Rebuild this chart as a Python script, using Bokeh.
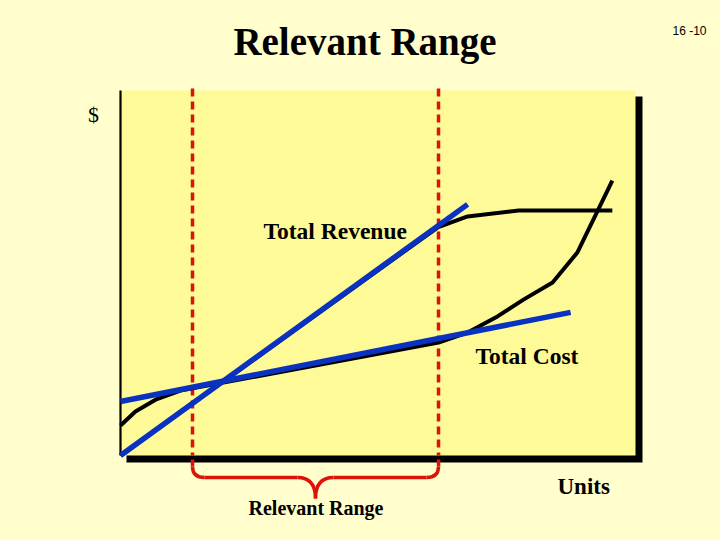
from bokeh.plotting import figure
from bokeh.models import Range1d
from bokeh.core.properties import value
from bokeh.embed import file_html
from bokeh.resources import INLINE

# ---------------- data (Units on x, $ on y, plot area spans 0..100 on both) ----------------
units_revenue_line = [0.0, 67.4]
dollars_revenue_line = [0.0, 68.8]

units_revenue_curve = [0.0, 61.7, 67.4, 77.3, 95.5]
dollars_revenue_curve = [0.0, 62.6, 65.5, 67.1, 67.1]

units_cost_line = [0.0, 87.4]
dollars_cost_line = [14.8, 39.2]

units_cost_curve = [0.0, 2.9, 6.8, 11.65, 61.75, 67.4, 73.2, 78.25, 83.9, 88.7, 95.5]
dollars_cost_curve = [8.2, 12.05, 15.3, 17.8, 30.96, 33.7, 38.1, 42.7, 47.4, 55.6, 75.3]

relevant_range = [13.98, 61.75]
axis_extent = [100.0, 100.0]

title_text = "Relevant Range"
y_label = "$"
x_label = "Units"
revenue_label = "Total Revenue"
cost_label = "Total Cost"
range_label = "Relevant Range"
slide_number = "16 -10"

# ---------------- layout ----------------
W, H = 704, 524
PX_X, PX_Y = 5.15, 3.65          # pixels per data unit
ORIGIN_X, ORIGIN_Y = 120, 455    # page pixel of data origin
PAGE_OFF = 8

def pgx(px):
    return (px - ORIGIN_X) / PX_X

def pgy(py):
    return (ORIGIN_Y - py) / PX_Y

def dx(px):
    return px / PX_X

def dy(px):
    return px / PX_Y

PAGE_BG = "#FFFECC"
PLOT_BG = "#FFFA98"
BLUE = "#0A32C0"
RED = "#DC1408"
SERIF = value("Liberation Serif")

p = figure(width=W, height=H, output_backend="svg", toolbar_location=None,
           x_range=Range1d(pgx(PAGE_OFF), pgx(PAGE_OFF + W)),
           y_range=Range1d(pgy(PAGE_OFF + H), pgy(PAGE_OFF)),
           min_border=0, background_fill_color=PAGE_BG, border_fill_color=PAGE_BG,
           outline_line_color=None)
p.axis.visible = False
p.grid.visible = False

xmax, ymax = axis_extent

# drop shadow + plot area
p.quad(left=[dx(6)], right=[xmax + dx(7)], bottom=[-dy(7)], top=[ymax - dy(6)],
       fill_color="black", line_color=None)
p.quad(left=[0], right=[xmax], bottom=[0], top=[ymax],
       fill_color=PLOT_BG, line_color=None)
# left axis
p.segment(x0=[0], y0=[0], x1=[0], y1=[ymax], line_color="black", line_width=2.2)

# relevant range dashed lines
p.segment(x0=relevant_range, y0=[ymax + dy(2)] * 2, x1=relevant_range, y1=[0, 0],
          line_color=RED, line_width=3.5, line_dash="8 5")

# brace below the axis
L, R = relevant_range
M = (L + R) / 2
BW = 3.5
p.segment(x0=[L, R], y0=[-dy(4), -dy(4)], x1=[L, R], y1=[-dy(11), -dy(11)],
          line_color=RED, line_width=BW)
p.segment(x0=[L + dx(12), M + dx(18)], y0=[-dy(22)] * 2,
          x1=[M - dx(18), R - dx(12)], y1=[-dy(22)] * 2,
          line_color=RED, line_width=BW)
p.bezier(x0=[L, R, M - dx(18), M + dx(18)],
         y0=[-dy(11), -dy(11), -dy(22), -dy(22)],
         x1=[L + dx(12), R - dx(12), M, M],
         y1=[-dy(22), -dy(22), -dy(43), -dy(43)],
         cx0=[L, R, M - dx(5), M + dx(5)],
         cy0=[-dy(18), -dy(18), -dy(22), -dy(22)],
         cx1=[L + dx(4), R - dx(4), M, M],
         cy1=[-dy(22), -dy(22), -dy(30), -dy(30)],
         line_color=RED, line_width=BW)

# curves
p.line(units_revenue_curve, dollars_revenue_curve, line_color="black", line_width=4,
       line_join="round")
p.line(units_cost_curve, dollars_cost_curve, line_color="black", line_width=4,
       line_join="round")
p.line(units_revenue_line, dollars_revenue_line, line_color=BLUE, line_width=5.5)
p.line(units_cost_line, dollars_cost_line, line_color=BLUE, line_width=5.5)

# texts (baseline page-pixel positions; small upward correction for rendering)
def txt(px, py, s, size, style="bold", align="left", font=SERIF):
    py = py - 0.33 * size
    p.text(x=[pgx(px)], y=[pgy(py)], text=[s], text_font=font,
           text_font_size=value(f"{size}px"),
           text_font_style=style, text_align=align, text_baseline="alphabetic",
           text_color="black")

txt(364.5, 54, title_text, 39, align="center")
txt(93, 121, y_label, 22, style="normal", align="center")
txt(263, 238, revenue_label, 23.5)
txt(475, 363, cost_label, 23.5)
txt(557, 494, x_label, 23)
txt(315.5, 514, range_label, 20, align="center")
txt(672, 34, slide_number, 12, style="normal", font=value("Liberation Sans"))

TEMPLATE = """
{% block postamble %}
<style>
html, body { margin: 0; background: #FFFECC; }
body { padding: 8px; }
</style>
{% endblock %}
"""

open("out.html", "w").write(file_html(p, INLINE, template=TEMPLATE))
